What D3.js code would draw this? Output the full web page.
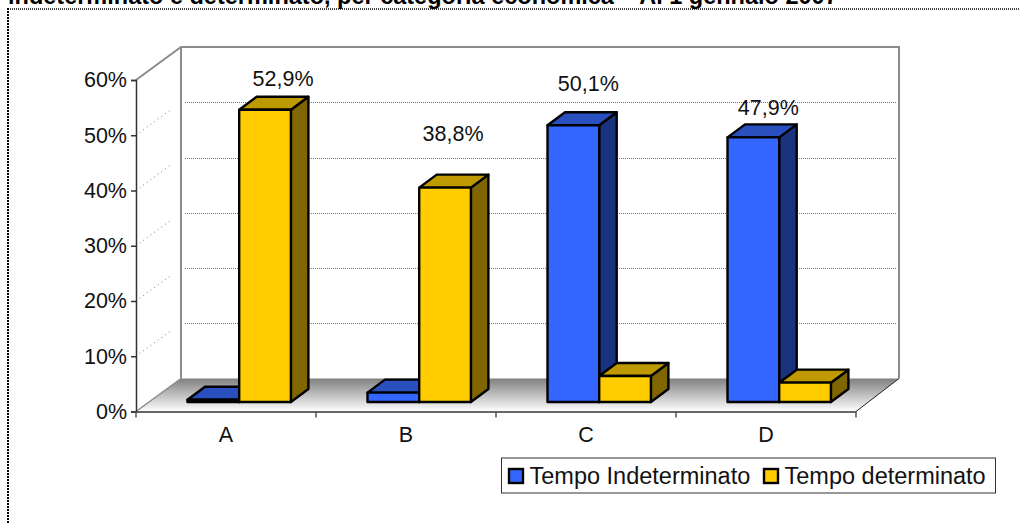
<!DOCTYPE html>
<html><head><meta charset="utf-8">
<script src="https://cdn.jsdelivr.net/npm/d3@7/dist/d3.min.js"></script>
<style>html,body{margin:0;padding:0;background:#fff;overflow:hidden}text{font-family:"Liberation Sans",Arial,sans-serif;fill:#111}</style>
</head><body><svg id="c" width="1020" height="523"></svg>
<script>
const categories = ["A","B","C","D"];
const seriesNames = ["Tempo Indeterminato","Tempo determinato"];
const indeterminato = [0.4,1.7,50.1,47.9];
const determinato = [52.9,38.8,4.7,3.5];
const labelledSeries = [1,1,0,0];
const yTicks = [0,10,20,30,40,50,60];
const titleText = "indeterminato e determinato, per categoria economica – Al 1 gennaio 2007";

const svg = d3.select("#c");
const depthX = 45, depthY = -33, barDX = 17.5, barDY = -13;
const x = d3.scaleBand().domain(categories).range([136,856]);
const y = d3.scaleLinear().domain([0,60]).range([411.5,80]);
const barW = 51.7, barStart = 51.5, barBase = 402;
const h = v => y(0) - y(v);
const fs = 21.5;

const defs = svg.append("defs");
const g = defs.append("linearGradient").attr("id","floor").attr("x1",0).attr("y1",0).attr("x2",0).attr("y2",1);
g.append("stop").attr("offset",0).attr("stop-color","#808080");
g.append("stop").attr("offset",1).attr("stop-color","#ffffff");

// title and dotted frame
svg.append("text").attr("x",8).attr("y",4).attr("font-size",23.5).attr("font-weight","bold").style("fill","#000").text(titleText);
svg.append("line").attr("x1",8).attr("x2",1020).attr("y1",9).attr("y2",9).attr("stroke","#000").attr("stroke-width",1.5).attr("stroke-dasharray","1 1");
svg.append("line").attr("x1",8).attr("x2",8).attr("y1",8).attr("y2",523).attr("stroke","#000").attr("stroke-width",2).attr("stroke-dasharray","2 1");

// walls
const L = 136, R = 856;
svg.append("path").attr("d",`M${L},${y(0)}L${L+depthX},${y(0)+depthY}L${R+depthX-2},${y(0)+depthY}L${R},${y(0)}Z`).attr("fill","url(#floor)");
svg.append("path").attr("d",`M${L},${y(60)}L${L+depthX},${y(60)+depthY}H${R+depthX-2}V${y(0)+depthY}`).attr("fill","none").attr("stroke","#8c8c8c").attr("stroke-width",2);
svg.append("line").attr("x1",L+depthX).attr("x2",L+depthX).attr("y1",y(60)+depthY).attr("y2",y(0)+depthY).attr("stroke","#8c8c8c").attr("stroke-width",2);
svg.append("line").attr("x1",L).attr("y1",y(0)).attr("x2",L+depthX).attr("y2",y(0)+depthY).attr("stroke","#8c8c8c").attr("stroke-width",1.5);
svg.append("line").attr("x1",R).attr("y1",y(0)).attr("x2",R+depthX-2).attr("y2",y(0)+depthY).attr("stroke","#222").attr("stroke-width",1);

// gridlines
yTicks.filter(t=>t>0&&t<60).forEach(t=>{
  const gy = Math.round(y(t)+depthY)+0.5;
  svg.append("line").attr("x1",L+depthX+4).attr("x2",R+depthX-4).attr("y1",gy).attr("y2",gy).attr("stroke","#777").attr("stroke-width",1).attr("stroke-dasharray","1 1");
  svg.append("line").attr("x1",L).attr("y1",y(t)).attr("x2",L+depthX-10).attr("y2",y(t)+depthY*(35/45)).attr("stroke","#555").attr("stroke-width",0.8).attr("stroke-dasharray","1 3.5");
});

// axes
const yAxis = d3.axisLeft(y).tickValues(yTicks).tickFormat(d=>d+"%").tickSize(5).tickPadding(4);
const ya = svg.append("g").attr("transform",`translate(${L},0)`).call(yAxis);
ya.selectAll("path,line").attr("stroke","#333").attr("stroke-width",1.5);
ya.selectAll("text").attr("font-size",fs);
const xAxis = d3.axisBottom(x).tickSize(0).tickPadding(15);
const xa = svg.append("g").attr("transform",`translate(0,${y(0)})`).call(xAxis);
xa.selectAll("path").attr("stroke","#333").attr("stroke-width",1.5);
xa.selectAll("text").attr("font-size",fs);
svg.selectAll("line.xt").data(d3.range(5)).enter().append("line").attr("class","xt")
  .attr("x1",i=>L+i*x.bandwidth()).attr("x2",i=>L+i*x.bandwidth()).attr("y1",y(0)).attr("y2",y(0)+6).attr("stroke","#555").attr("stroke-width",1.5);

// bars
const colors = [{f:"#3366ff",t:"#2a4fbf",s:"#1a3380"},{f:"#ffcc00",t:"#bf9900",s:"#806600"}];
function bar(px,v,c){
  const top = barBase - h(v), w = barW;
  const G = svg.append("g").attr("stroke","#000").attr("stroke-width",2.4).attr("stroke-linejoin","round");
  G.append("path").attr("d",`M${px+w},${top}l${barDX},${barDY}V${barBase+barDY}l${-barDX},${-barDY}Z`).attr("fill",c.s);
  G.append("path").attr("d",`M${px},${top}l${barDX},${barDY}h${w}l${-barDX},${-barDY}Z`).attr("fill",c.t);
  G.append("rect").attr("x",px).attr("y",top).attr("width",w).attr("height",barBase-top).attr("fill",c.f);
}
categories.forEach((cat,i)=>{
  const p = x(cat)+barStart;
  bar(p,indeterminato[i],colors[0]);
  bar(p+barW,determinato[i],colors[1]);
});

// data labels, placed by hand in the source chart relative to their bar tops
const labelShift = [[18,-24],[8,-47],[15,-34],[15,-22]];
categories.forEach((cat,i)=>{
  const s = labelledSeries[i], v = (s ? determinato : indeterminato)[i];
  svg.append("text")
    .attr("x",x(cat)+barStart+barW*s+barW/2+labelShift[i][0])
    .attr("y",barBase-h(v)+labelShift[i][1])
    .attr("text-anchor","middle").attr("font-size",fs)
    .text(v.toFixed(1).replace(".",",")+"%");
});

// legend
const lg = svg.append("g");
lg.append("rect").attr("x",501.5).attr("y",458).attr("width",494).attr("height",35).attr("fill","#fff").attr("stroke","#333").attr("stroke-width",1);
const lx = [509,764];
seriesNames.forEach((n,i)=>{
  lg.append("rect").attr("x",lx[i]).attr("y",469).attr("width",14).attr("height",14).attr("fill",colors[i].f).attr("stroke","#000").attr("stroke-width",2.4);
  lg.append("text").attr("x",lx[i]+20.5).attr("y",484).attr("font-size",23.5).text(n);
});
</script></body></html>
